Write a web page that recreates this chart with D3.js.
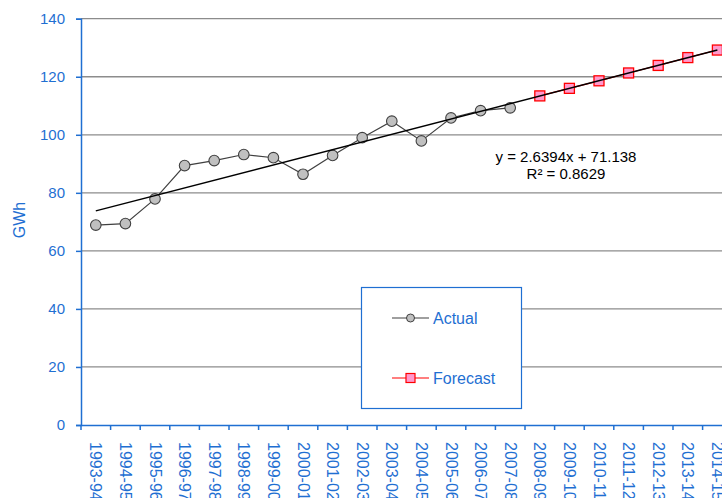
<!DOCTYPE html>
<html><head><meta charset="utf-8">
<script src="https://cdn.jsdelivr.net/npm/d3@7"></script>
<style>body{margin:0;background:#fff;}svg{display:block;font-family:"Liberation Sans",Arial,sans-serif;}</style>
</head><body>
<svg id="c" width="722" height="498"></svg>
<script>
const categories = ["1993-94","1994-95","1995-96","1996-97","1997-98","1998-99","1999-00","2000-01","2001-02","2002-03","2003-04","2004-05","2005-06","2006-07","2007-08","2008-09","2009-10","2010-11","2011-12","2012-13","2013-14","2014-15"];
const actualCats = categories.slice(0, 15);
const actualValues = [68.9, 69.4, 77.9, 89.4, 91.1, 93.2, 92.1, 86.4, 92.9, 99.0, 104.7, 97.9, 105.8, 108.3, 109.3];
const forecastCats = categories.slice(15);
const forecastValues = [113.4, 116.0, 118.6, 121.3, 123.9, 126.6, 129.2];
const yTicks = [0, 20, 40, 60, 80, 100, 120, 140];
const trendSlope = 2.6394, trendIntercept = 71.138;
const equationLines = ["y = 2.6394x + 71.138", "R\u00b2 = 0.8629"];
const legendItems = ["Actual", "Forecast"];

const blue = "#1f6fd2";
const svg = d3.select("#c");
const mLeft = 81, mTop = 18.7, mBottom = 425;
const x = d3.scaleBand().domain(categories).range([mLeft, mLeft + 22 * 29.6]).padding(0);
const y = d3.scaleLinear().domain([0, 140]).range([mBottom, mTop]);
const cx = c => x(c) + x.bandwidth() / 2;

// gridlines
svg.append("g").selectAll("line").data(yTicks.filter(d => d > 0)).join("line")
  .attr("x1", mLeft).attr("x2", x.range()[1])
  .attr("y1", d => y(d)).attr("y2", d => y(d))
  .attr("stroke", "#8c8c8c").attr("stroke-width", 1.3);

// y axis
const ya = svg.append("g").attr("transform", `translate(${mLeft},0)`)
  .call(d3.axisLeft(y).tickValues(yTicks).tickSize(5).tickPadding(11));
ya.select(".domain").attr("stroke", blue).attr("stroke-width", 1.5);
ya.selectAll(".tick line").attr("stroke", blue).attr("stroke-width", 1.5);
ya.selectAll(".tick text").attr("fill", blue).attr("font-size", 15).attr("font-family", "Liberation Sans, Arial, sans-serif");

// x axis
const xa = svg.append("g").attr("transform", `translate(0,${mBottom})`)
  .call(d3.axisBottom(x).tickSize(0).tickSizeOuter(0));
xa.select(".domain").attr("stroke", blue).attr("stroke-width", 1.5);
xa.selectAll(".tick line").remove();
xa.selectAll(".tick text")
  .attr("fill", blue).attr("font-size", 16).attr("font-family", "Liberation Sans, Arial, sans-serif")
  .attr("text-anchor", "start").attr("dy", null)
  .attr("transform", "translate(0,17) rotate(90)")
  .attr("x", 0).attr("y", 0).attr("dominant-baseline", "central");
// boundary tick marks
svg.append("g").selectAll("line").data(categories.concat(["_end"])).join("line")
  .attr("x1", (d, i) => mLeft + i * x.bandwidth()).attr("x2", (d, i) => mLeft + i * x.bandwidth())
  .attr("y1", mBottom).attr("y2", mBottom + 5)
  .attr("stroke", blue).attr("stroke-width", 1.5);

// y axis title
svg.append("text").attr("transform", "translate(24.5,220) rotate(-90)")
  .attr("text-anchor", "middle").attr("fill", blue).attr("font-size", 16).text("GWh");

// actual series
const line = d3.line().x(d => cx(d[0])).y(d => y(d[1]));
const actual = actualCats.map((c, i) => [c, actualValues[i]]);
const forecast = forecastCats.map((c, i) => [c, forecastValues[i]]);
svg.append("path").attr("d", line(actual)).attr("fill", "none").attr("stroke", "#404040").attr("stroke-width", 1.2);
svg.append("g").selectAll("circle").data(actual).join("circle")
  .attr("cx", d => cx(d[0])).attr("cy", d => y(d[1])).attr("r", 5.3)
  .attr("fill", "#c0c0c0").attr("stroke", "#404040").attr("stroke-width", 1.1);

// forecast series
svg.append("path").attr("d", line(forecast)).attr("fill", "none").attr("stroke", "#ff0000").attr("stroke-width", 1.2);
svg.append("g").selectAll("rect").data(forecast).join("rect")
  .attr("x", d => cx(d[0]) - 5).attr("y", d => y(d[1]) - 5).attr("width", 10).attr("height", 10)
  .attr("fill", "#ff99cc").attr("stroke", "#ff0000").attr("stroke-width", 1.3);

// trendline
const tx1 = 1, tx2 = categories.length;
svg.append("line")
  .attr("x1", cx(categories[0])).attr("y1", y(trendSlope * tx1 + trendIntercept))
  .attr("x2", cx(categories[tx2 - 1])).attr("y2", y(trendSlope * tx2 + trendIntercept))
  .attr("stroke", "#000").attr("stroke-width", 1.5);

// equation
svg.append("g").selectAll("text").data(equationLines).join("text")
  .attr("x", 566).attr("y", (d, i) => 162 + i * 17).attr("text-anchor", "middle")
  .attr("font-size", 15).attr("fill", "#000").text(d => d);

// legend
const lg = svg.append("g");
lg.append("rect").attr("x", 361.5).attr("y", 287.5).attr("width", 160).attr("height", 121)
  .attr("fill", "#fff").attr("stroke", blue).attr("stroke-width", 1.2);
const ly = [318, 378];
legendItems.forEach((name, i) => {
  const col = i === 0 ? "#404040" : "#ff0000";
  lg.append("line").attr("x1", 392).attr("x2", 429).attr("y1", ly[i]).attr("y2", ly[i]).attr("stroke", col).attr("stroke-width", 1.2);
  if (i === 0) lg.append("circle").attr("cx", 410.5).attr("cy", ly[i]).attr("r", 4).attr("fill", "#c0c0c0").attr("stroke", "#404040");
  else lg.append("rect").attr("x", 406).attr("y", ly[i] - 4.5).attr("width", 9).attr("height", 9).attr("fill", "#ff99cc").attr("stroke", "#ff0000").attr("stroke-width", 1.2);
  lg.append("text").attr("x", 433).attr("y", ly[i] + 6).attr("fill", blue).attr("font-size", 16).text(name);
});
</script>
</body></html>
